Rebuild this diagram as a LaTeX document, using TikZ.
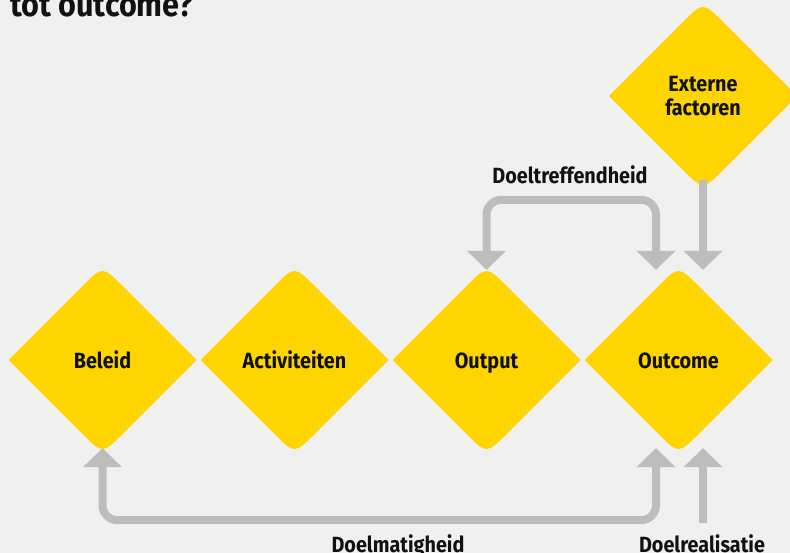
\documentclass[tikz,border=0pt]{standalone}
\usepackage{fontspec}
\newfontfamily\condfont{Fira Sans}[FakeStretch=0.9]
\usetikzlibrary{shapes.geometric,arrows.meta,calc}
\definecolor{bgcol}{HTML}{F0F0F0}
\definecolor{ylw}{HTML}{FFD500}
\definecolor{arrgray}{HTML}{BDBDBD}
\definecolor{txt}{HTML}{111111}
\newcommand{\rdiam}[2]{\fill[ylw] ({#1-94},#2) -- ({#1-20},{#2-74}) .. controls (#1,{#2-94}) .. ({#1+20},{#2-74}) -- ({#1+94},#2) -- ({#1+20},{#2+74}) .. controls (#1,{#2+94}) .. ({#1-20},{#2+74}) -- cycle;}
\tikzset{
  lbl/.style={font=\condfont\bfseries\fontsize{22}{23.5}\selectfont, text=txt, inner sep=0pt},
  dia/.style={lbl, shape=diamond, minimum width=188pt, minimum height=188pt, text height=16pt, text depth=0pt},
  dia2/.style={lbl, shape=diamond, minimum width=188pt, minimum height=188pt, align=center},
  arr/.style={draw=arrgray, line width=8pt, rounded corners=15pt, -{Triangle[width=38pt,length=19pt]}},
  arrboth/.style={draw=arrgray, line width=8pt, rounded corners=15pt, {Triangle[width=38pt,length=19pt]}-{Triangle[width=38pt,length=19pt]}}
}
\begin{document}
\begin{tikzpicture}[x=1pt,y=-1pt]
\useasboundingbox[fill=bgcol] (0,0) rectangle (790,553);
% title (cut off at the top)
\node[font=\condfont\bfseries\fontsize{34}{40}\selectfont, text=txt, inner sep=0pt, anchor=base west] (title) at (10,17) {tot outcome?};
% diamond fills
\rdiam{102.5}{360}
\rdiam{294.5}{360}
\rdiam{486.5}{360}
\rdiam{678.5}{360}
\rdiam{703}{96}
% diamond nodes
\node[dia] (beleid) at (102.5,360) {Beleid};
\node[dia] (activ) at (294.5,360) {Activiteiten};
\node[dia] (output) at (486.5,360) {Output};
\node[dia] (outcome) at (678.5,360) {Outcome};
\node[dia2] (extern) at (703,96) {Externe\\factoren};
% connectors
\draw[arrboth] ($(output.north)+(0,4)$) -- ++(0,-70) -| ($(outcome.north)+(-22.5,4)$);
\draw[arr] ($(extern.south)+(0,-10)$) -- ($(outcome.north)+(24.5,4)$);
\draw[arrboth] ($(outcome.south)+(-22.5,-6)$) -- ++(0,72) -| ($(beleid.south)+(0,-6)$);
\draw[arr] ($(outcome.south)+(24.5,69)$) -- ($(outcome.south)+(24.5,-6)$);
% labels
\node[lbl, anchor=base] (ldt) at (570,184) {Doeltreffendheid};
\node[lbl, anchor=base] (ldm) at (398,552) {Doelmatigheid};
\node[lbl, anchor=base] (ldr) at (702,552) {Doelrealisatie};
\end{tikzpicture}
\end{document}
